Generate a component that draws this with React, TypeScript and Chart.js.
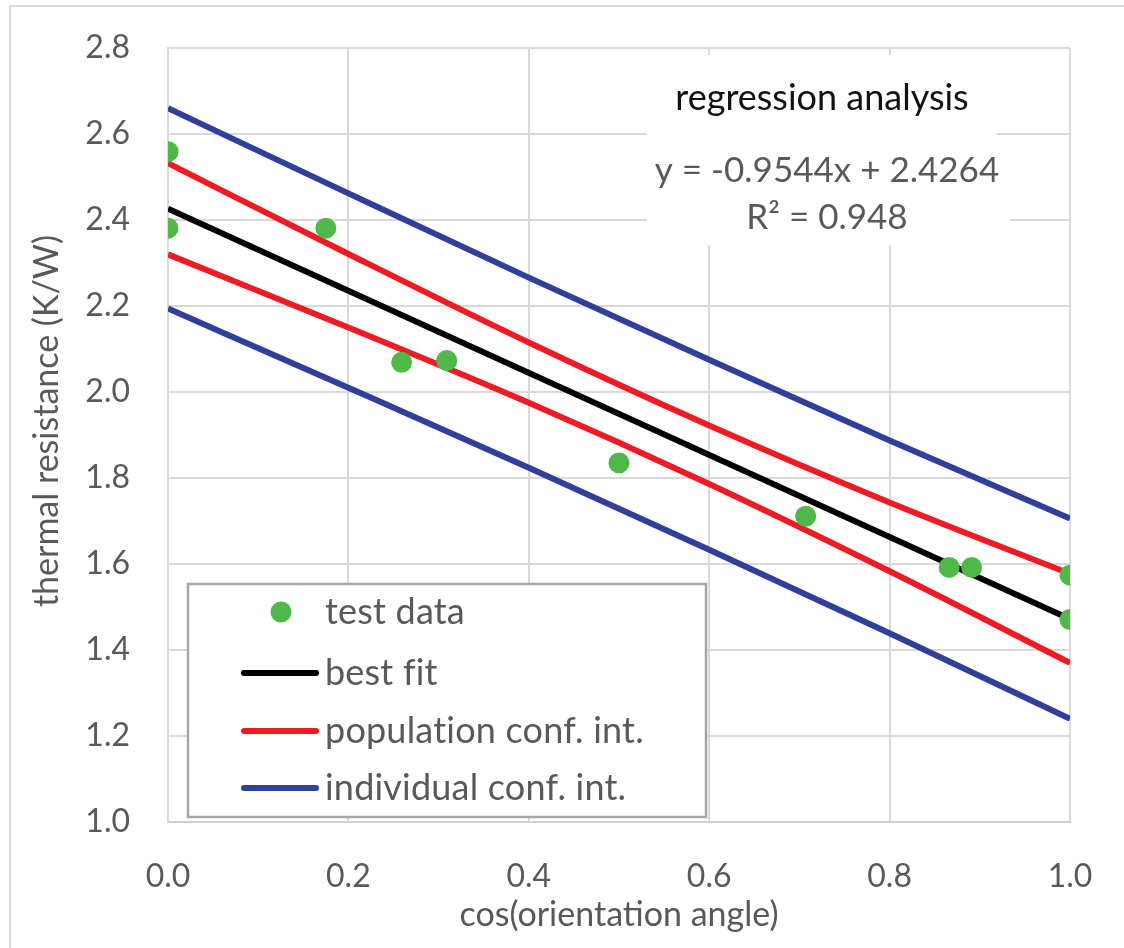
import React, { useEffect, useRef } from "react";
import { Chart, registerables } from "chart.js";

Chart.register(...registerables);

// ---- data ----
const testX = [0, 0, 0.175, 0.259, 0.309, 0.5, 0.707, 0.866, 0.891, 1.0, 1.0];
const testY = [2.559, 2.381, 2.381, 2.069, 2.073, 1.835, 1.711, 1.592, 1.592, 1.574, 1.471];

const fitX = [0, 1];
const fitY = [2.4264, 1.472];

const ciX = [0, 0.2, 0.4, 0.6, 0.8, 1.0];
const popUpper = [2.532, 2.321, 2.115, 1.922, 1.743, 1.577];
const popLower = [2.32, 2.15, 1.975, 1.786, 1.583, 1.37];
const indUpper = [2.66, 2.462, 2.266, 2.075, 1.887, 1.706];
const indLower = [2.194, 2.01, 1.824, 1.633, 1.439, 1.24];

const legendLabels = ["test data", "best fit", "population conf. int.", "individual conf. int."];
const annotationTitle = "regression analysis";
const equationText = "y = -0.9544x + 2.4264";
const r2Text = "R² = 0.948";
const xTitle = "cos(orientation angle)";
const yTitle = "thermal resistance (K/W)";

const GREEN = "#4fb848";
const RED = "#ed1c24";
const BLUE = "#303f99";
const BLACK = "#000000";
const TEXT = "#595959";
const GRID = "#d9d9d9";
const FONT = "Lato, 'Open Sans', sans-serif";

const pts = (xs: number[], ys: number[]) => xs.map((x, i) => ({ x, y: ys[i] }));

const decorPlugin = {
  id: "decor",
  beforeDraw(chart: any) {
    const ctx = chart.ctx;
    ctx.save();
    ctx.fillStyle = "#ffffff";
    ctx.fillRect(0, 0, chart.width, chart.height);
    ctx.strokeStyle = "#d9d9d9";
    ctx.lineWidth = 2;
    ctx.strokeRect(10, 6, chart.width + 20, chart.height + 20);
    ctx.restore();
  },
  beforeDatasetsDraw(chart: any) {
    const ctx = chart.ctx;
    ctx.save();
    // annotation boxes
    ctx.fillStyle = "#ffffff";
    ctx.fillRect(647, 55, 350, 85);
    ctx.fillRect(647, 140, 363, 105);
    ctx.textAlign = "center";
    ctx.textBaseline = "middle";
    ctx.font = `36px ${FONT}`;
    ctx.fillStyle = "#111111";
    ctx.fillText(annotationTitle, 822, 98);
    ctx.fillStyle = TEXT;
    ctx.font = `35px ${FONT}`;
    ctx.fillText(equationText, 827, 171);
    ctx.fillText(r2Text, 827, 218);
    ctx.restore();
  },
  afterDraw(chart: any) {
    const ctx = chart.ctx;
    const { left, right } = chart.chartArea;
    ctx.save();
    // axis titles
    ctx.fillStyle = TEXT;
    ctx.font = `34px ${FONT}`;
    ctx.textAlign = "center";
    ctx.textBaseline = "middle";
    ctx.fillText(xTitle, (left + right) / 2, 915);
    ctx.translate(47, 421);
    ctx.rotate(-Math.PI / 2);
    ctx.fillText(yTitle, 0, 0);
    ctx.restore();

    // legend
    ctx.save();
    ctx.fillStyle = "#ffffff";
    ctx.fillRect(188, 584, 518, 233);
    ctx.strokeStyle = "#a6a6a6";
    ctx.lineWidth = 2.5;
    ctx.strokeRect(188, 584, 518, 233);
    const rows = [612, 673, 731, 788];
    const colors = [GREEN, BLACK, RED, BLUE];
    ctx.font = `36px ${FONT}`;
    ctx.textAlign = "left";
    ctx.textBaseline = "middle";
    try {
      (ctx as any).letterSpacing = "0.2px";
    } catch (e) {}
    rows.forEach((ry, i) => {
      if (i === 0) {
        ctx.beginPath();
        ctx.fillStyle = GREEN;
        ctx.arc(281, ry, 10.5, 0, Math.PI * 2);
        ctx.fill();
      } else {
        ctx.beginPath();
        ctx.strokeStyle = colors[i];
        ctx.lineWidth = 6;
        ctx.lineCap = "round";
        ctx.moveTo(244, ry);
        ctx.lineTo(316, ry);
        ctx.stroke();
      }
      ctx.fillStyle = TEXT;
      ctx.fillText(legendLabels[i], 325, ry);
    });
    ctx.restore();
  },
};

export default function App() {
  const ref = useRef<HTMLCanvasElement | null>(null);

  useEffect(() => {
    if (!ref.current) return;
    const lineDs = (label: string, ys: number[], xs: number[], color: string) => ({
      label,
      data: pts(xs, ys),
      showLine: true,
      borderColor: color,
      backgroundColor: color,
      borderWidth: 6,
      pointRadius: 0,
      pointHoverRadius: 0,
      fill: false,
      cubicInterpolationMode: "monotone",
    });
    const chart = new Chart(ref.current, {
      type: "scatter",
      data: {
        datasets: [
          {
            label: legendLabels[0],
            data: pts(testX, testY),
            backgroundColor: GREEN,
            borderWidth: 0,
            pointRadius: 10.5,
            showLine: false,
          },
          lineDs(legendLabels[1], fitY, fitX, BLACK),
          lineDs(legendLabels[2] + " upper", popUpper, ciX, RED),
          lineDs(legendLabels[2] + " lower", popLower, ciX, RED),
          lineDs(legendLabels[3] + " upper", indUpper, ciX, BLUE),
          lineDs(legendLabels[3] + " lower", indLower, ciX, BLUE),
        ] as any,
      },
      options: {
        responsive: false,
        animation: false,
        devicePixelRatio: 1,
        layout: { padding: { top: 48, right: 54, left: 0, bottom: 0 } },
        plugins: {
          legend: { display: false },
          tooltip: { enabled: false },
          title: { display: false },
        },
        scales: {
          x: {
            type: "linear",
            min: 0,
            max: 1,
            ticks: {
              stepSize: 0.2,
              padding: 35,
              color: TEXT,
              font: { family: FONT, size: 32 },
              callback: (v: any) => Number(v).toFixed(1),
            },
            grid: { color: GRID, lineWidth: 2, drawTicks: false },
            border: { color: "#cfcfcf", width: 2 },
            afterFit: (s: any) => {
              s.height = 126;
              s.paddingLeft = 0;
              s.paddingRight = 0;
            },
          },
          y: {
            type: "linear",
            min: 1,
            max: 2.8,
            ticks: {
              stepSize: 0.2,
              padding: 38,
              color: TEXT,
              font: { family: FONT, size: 32 },
              callback: (v: any) => Number(v).toFixed(1),
            },
            grid: { color: GRID, lineWidth: 2, drawTicks: false },
            border: { color: GRID, width: 2 },
            afterFit: (s: any) => {
              s.width = 168;
              s.paddingTop = 0;
              s.paddingBottom = 0;
            },
          },
        },
      } as any,
      plugins: [decorPlugin],
    });
    return () => chart.destroy();
  }, []);

  return (
    <div style={{ position: "absolute", left: 0, top: 0, width: 1124, height: 948 }}>
      <canvas ref={ref} width={1124} height={948} style={{ width: 1124, height: 948 }} />
    </div>
  );
}
